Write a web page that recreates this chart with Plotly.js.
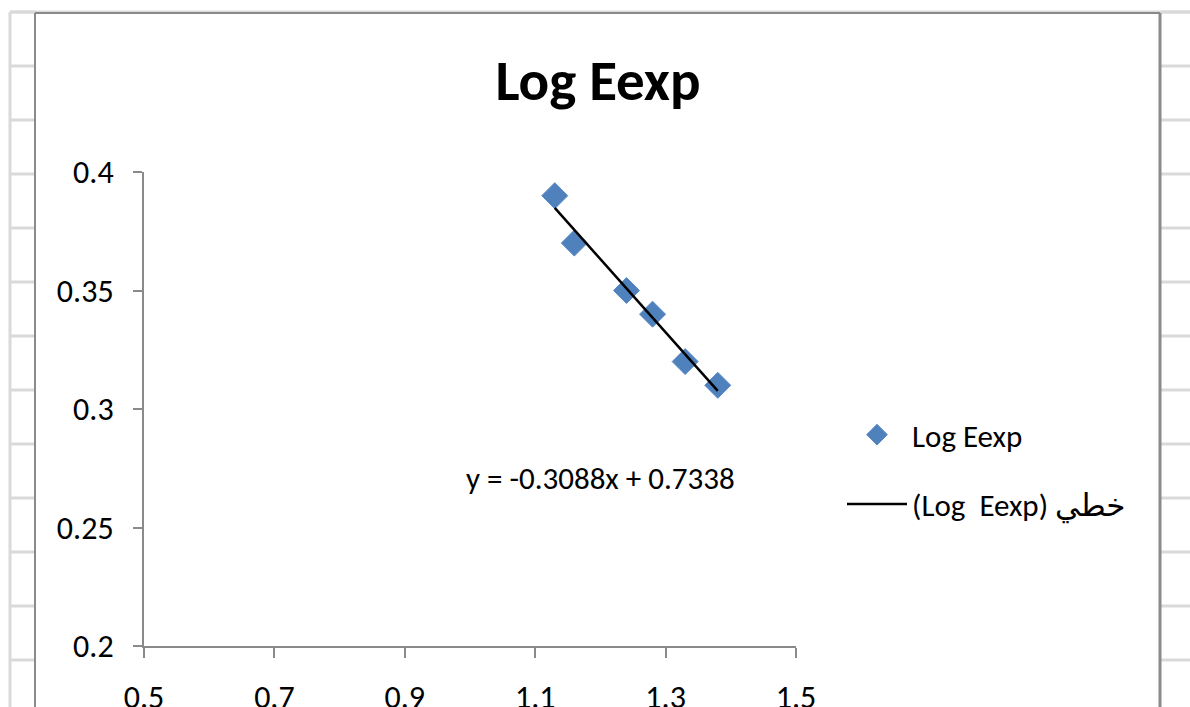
<!DOCTYPE html>
<html>
<head>
<meta charset="utf-8">
<script src="https://cdn.plot.ly/plotly-3.0.1.min.js"></script>
<style>
  html, body { margin: 0; padding: 0; background: #ffffff; }
  #chart { width: 1190px; height: 707px; }
</style>
</head>
<body>
<div id="chart"></div>
<script>
// ---- data ----
const xValues = [1.13, 1.16, 1.24, 1.28, 1.33, 1.38];
const yValues = [0.39, 0.37, 0.35, 0.34, 0.32, 0.31];
const trendSlope = -0.3088;
const trendIntercept = 0.7338;
const seriesName = 'Log Eexp';
const trendName = '(Log  Eexp) خطي';
const chartTitle = 'Log Eexp';
const xTickVals = [0.5, 0.7, 0.9, 1.1, 1.3, 1.5];
const xTickText = ['0.5', '0.7', '0.9', '1.1', '1.3', '1.5'];
const yTickVals = [0.2, 0.25, 0.3, 0.35, 0.4];
const yTickText = ['0.2', '0.25', '0.3', '0.35', '0.4'];

// ---- layout geometry (pixels) ----
const W = 1190, H = 707;
const M = { l: 144, r: 394, t: 172, b: 61 };
const PW = W - M.l - M.r, PH = H - M.t - M.b;
const px = v => (v - M.l) / PW;          // pixel x -> paper x
const py = v => (H - M.b - v) / PH;      // pixel y -> paper y

const FONT = 'Carlito, Calibri, Lato, "DejaVu Sans", sans-serif';
const GRID = '#D9D9D9';
const FRAME = '#8A8A8A';

const xMin = Math.min(...xValues), xMax = Math.max(...xValues);
const trendX = [xMin, xMax];
const trendY = trendX.map(x => trendSlope * x + trendIntercept);

const traces = [
  {
    x: xValues, y: yValues, type: 'scatter', mode: 'markers', name: seriesName,
    legendgroup: 'a',
    marker: { symbol: 'diamond', size: 20, color: '#4F81BD', line: { color: '#5B8BC6', width: 1 } },
    hoverinfo: 'x+y'
  },
  {
    x: trendX, y: trendY, type: 'scatter', mode: 'lines', name: trendName,
    legendgroup: 'b',
    line: { color: '#000000', width: 2.5 }
  }
];

// spreadsheet cell grid around the chart frame
const shapes = [];
const rowYs = [];
for (let y = 12; y <= H; y += 54) rowYs.push(y);
rowYs.forEach(y => {
  shapes.push({ type: 'line', xref: 'paper', yref: 'paper', x0: px(10), x1: px(35), y0: py(y), y1: py(y), line: { color: GRID, width: 3 }, layer: 'below' });
  shapes.push({ type: 'line', xref: 'paper', yref: 'paper', x0: px(1161), x1: px(W), y0: py(y), y1: py(y), line: { color: GRID, width: 3 }, layer: 'below' });
});
shapes.push({ type: 'line', xref: 'paper', yref: 'paper', x0: px(10), x1: px(W), y0: py(12), y1: py(12), line: { color: GRID, width: 3 }, layer: 'below' });
shapes.push({ type: 'line', xref: 'paper', yref: 'paper', x0: px(10), x1: px(10), y0: py(12), y1: py(H), line: { color: GRID, width: 3 }, layer: 'below' });
// chart frame
shapes.push({ type: 'line', xref: 'paper', yref: 'paper', x0: px(35), x1: px(35), y0: py(13), y1: py(H + 5), line: { color: FRAME, width: 2 }, layer: 'below' });
shapes.push({ type: 'line', xref: 'paper', yref: 'paper', x0: px(35), x1: px(1160), y0: py(13), y1: py(13), line: { color: FRAME, width: 2 }, layer: 'below' });
shapes.push({ type: 'line', xref: 'paper', yref: 'paper', x0: px(1160), x1: px(1160), y0: py(13), y1: py(H + 5), line: { color: FRAME, width: 3 }, layer: 'below' });

const layout = {
  width: W, height: H,
  margin: M,
  paper_bgcolor: '#ffffff', plot_bgcolor: '#ffffff',
  font: { family: FONT, color: '#000000', size: 31 },
  title: {
    text: '<b>' + chartTitle + '</b>',
    font: { family: FONT, size: 57, color: '#000000' },
    x: 598 / W, xanchor: 'center', xref: 'container',
    y: 1 - 80 / H, yanchor: 'middle', yref: 'container'
  },
  xaxis: {
    range: [0.5, 1.5], tickvals: xTickVals, ticktext: xTickText,
    showgrid: false, zeroline: false, showline: true,
    linecolor: FRAME, linewidth: 2,
    ticks: 'outside', ticklen: 10, tickwidth: 2, tickcolor: FRAME,
    tickfont: { family: FONT, size: 32, color: '#000000' },
    ticklabelstandoff: 12,
    fixedrange: true
  },
  yaxis: {
    range: [0.2, 0.4], tickvals: yTickVals, ticktext: yTickText,
    showgrid: false, zeroline: false, showline: true,
    linecolor: FRAME, linewidth: 2,
    ticks: 'outside', ticklen: 9, tickwidth: 2, tickcolor: FRAME,
    tickfont: { family: FONT, size: 32, color: '#000000' },
    ticklabelstandoff: 13,
    fixedrange: true
  },
  showlegend: true,
  legend: {
    x: px(842), xanchor: 'left',
    y: py(408), yanchor: 'top',
    font: { family: FONT, size: 31, color: '#000000' },
    bgcolor: 'rgba(0,0,0,0)', borderwidth: 0,
    traceorder: 'grouped', tracegroupgap: 26,
    itemwidth: 60
  },
  annotations: [{
    x: 1.2, y: 0.271, xref: 'x', yref: 'y',
    text: 'y = ' + trendSlope + 'x + ' + trendIntercept,
    showarrow: false, xanchor: 'center', yanchor: 'middle',
    font: { family: FONT, size: 31, color: '#000000' }
  }],
  shapes: shapes
};

Plotly.newPlot('chart', traces, layout, { displayModeBar: false, staticPlot: true });
</script>
</body>
</html>
